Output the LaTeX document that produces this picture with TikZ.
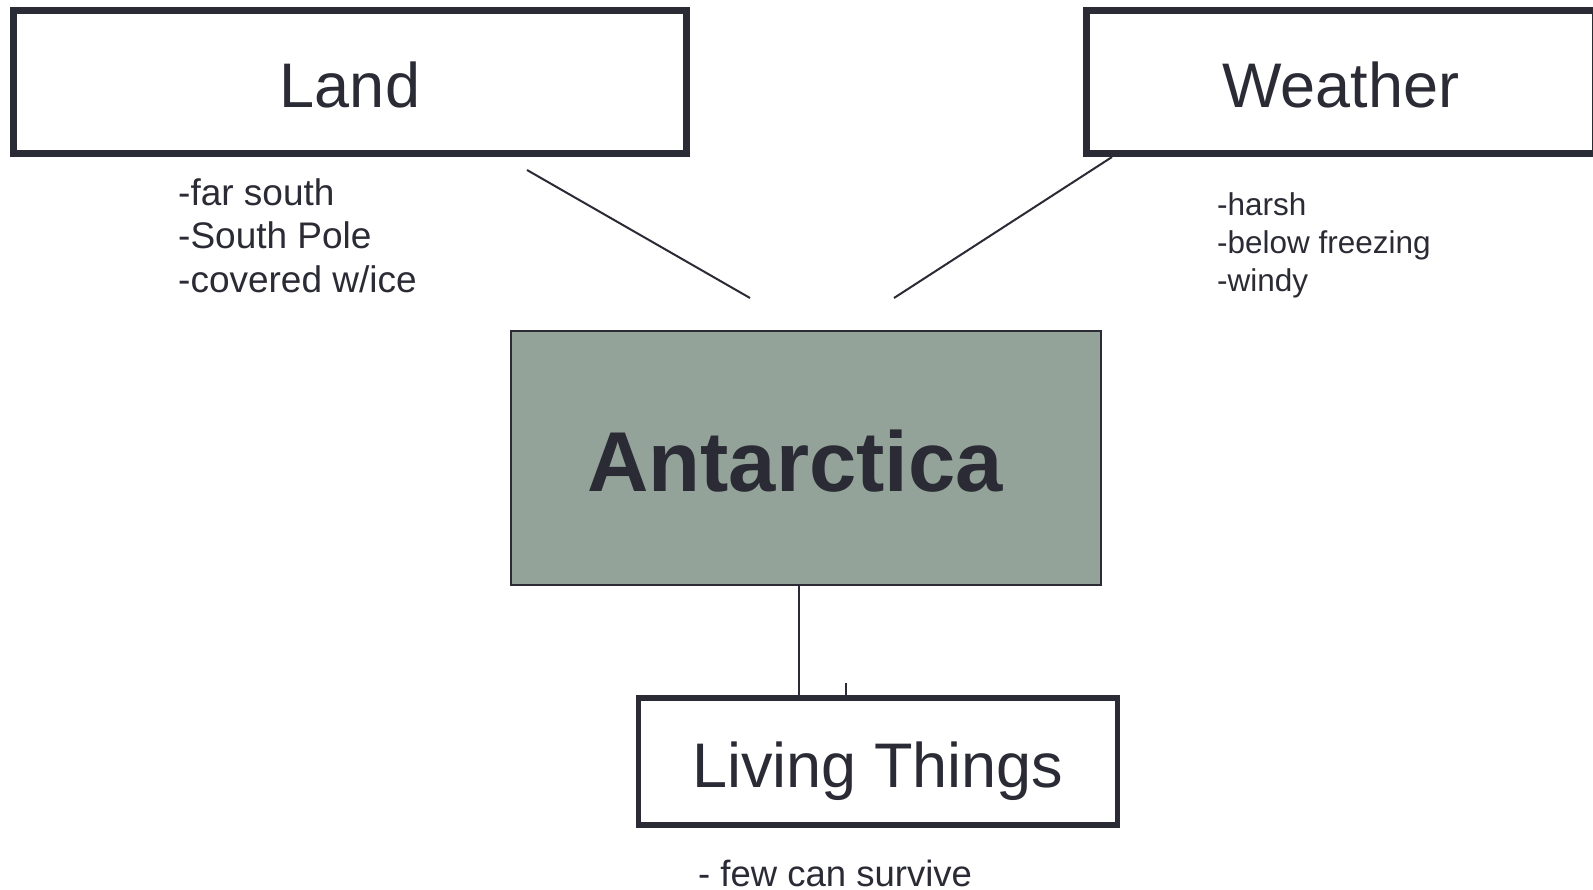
\documentclass[tikz,border=0pt]{standalone}
\usepackage{fontspec}
\setmainfont{Liberation Sans}
\definecolor{ink}{RGB}{42,43,52}
\definecolor{sage}{RGB}{147,163,153}
\begin{document}
\begin{tikzpicture}[x=1pt,y=-1pt,
  topicbox/.style={draw=ink,line width=7pt,inner sep=0pt,fill=white},
  centerbox/.style={draw=ink,line width=2pt,inner sep=0pt,fill=sage},
  lifebox/.style={draw=ink,line width=5.5pt,inner sep=0pt,fill=white},
  titletext/.style={anchor=base,inner sep=0pt,text=ink,font=\fontsize{63}{70}\selectfont},
  maintext/.style={anchor=base,inner sep=0pt,text=ink,font=\fontsize{85}{95}\selectfont\bfseries},
  notetext/.style={anchor=base west,inner sep=0pt,text=ink,font=\fontsize{37}{44}\selectfont},
  smallnote/.style={anchor=base west,inner sep=0pt,text=ink,font=\fontsize{31.5}{38}\selectfont},
  link/.style={draw=ink,line width=2pt}]
\clip (0,0) rectangle (1593,889);
\fill[white] (0,0) rectangle (1593,889);

% boxes
\node[topicbox,minimum width=673pt,minimum height=143pt] (land) at (350,82) {};
\node[topicbox,minimum width=509pt,minimum height=143pt] (weather) at (1341,82) {};
\node[centerbox,minimum width=590pt,minimum height=254pt] (ant) at (806,458) {};
\node[lifebox,minimum width=479pt,minimum height=127pt] (life) at (878,761.5) {};

% titles
\node[titletext] (landT) at (350,107) {Land};
\node[titletext] (weatherT) at (1341,107) {Weather};
\node[maintext] (antT) at (795,491) {Antarctica};
\node[titletext] (lifeT) at (878,787) {Living Things};

% notes
\node[notetext] (l1) at (178,205) {-far south};
\node[notetext] (l2) at (178,248) {-South Pole};
\node[notetext] (l3) at (178,292) {-covered w/ice};
\node[smallnote] (w1) at (1217,215) {-harsh};
\node[smallnote] (w2) at (1217,253) {-below freezing};
\node[smallnote] (w3) at (1217,291) {-windy};
\node[anchor=base west,inner sep=0pt,text=ink,font=\fontsize{36.5}{44}\selectfont] (s1) at (698,886) {- few can survive};

% connectors
\coordinate (a1) at (527,170);
\coordinate (a2) at (750,298);
\coordinate (b1) at (1112,157);
\coordinate (b2) at (894,298);
\coordinate (c1) at (799,586);
\coordinate (c2) at (799,697);
\coordinate (t1) at (846,683);
\coordinate (t2) at (846,697);
\draw[link] (a1) -- (a2);
\draw[link] (b1) -- (b2);
\draw[link] (c1) -- (c2);
\draw[link] (t1) -- (t2);
\end{tikzpicture}
\end{document}
